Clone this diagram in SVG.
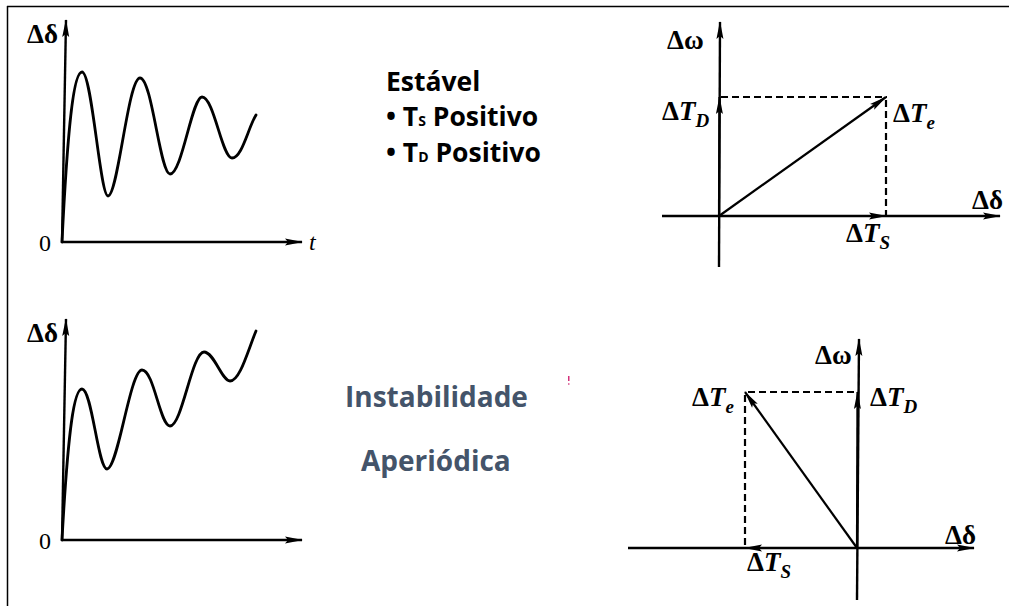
<svg xmlns="http://www.w3.org/2000/svg" width="1009" height="606" viewBox="0 0 1009 606">
<style>
.ax{stroke:#000;stroke-width:2.4;fill:none}
.cv{stroke:#000;stroke-width:2.8;fill:none;stroke-linecap:round;stroke-linejoin:round}
.dash{stroke:#000;stroke-width:2.2;fill:none;stroke-dasharray:7,4}
.vec{stroke:#000;stroke-width:2.2;fill:none}
.lb{font-family:"Liberation Serif","Times New Roman",serif;font-size:27px;font-weight:bold;fill:#000}
.nm{font-family:"Liberation Serif","Times New Roman",serif;font-size:24px;font-weight:normal;fill:#000}
.it{font-style:italic}
.sub{font-style:italic;font-size:19px}
.mt{font-family:"Open Sans","Liberation Sans",sans-serif;font-weight:bold;fill:#000;font-size:26.5px}
.bl{font-family:"Open Sans","Liberation Sans",sans-serif;font-weight:bold;fill:#44546A;font-size:28px}
</style>
<defs>
<marker id="ah" markerUnits="userSpaceOnUse" markerWidth="18" markerHeight="9" refX="17" refY="4.5" orient="auto">
<path d="M0,1 L18,4.5 L0,8 L3,4.5 Z" fill="#000"/>
</marker>
</defs>
<rect width="1009" height="606" fill="#fff"/>
<g id="frame">
<line x1="7" y1="6.5" x2="1009" y2="6.5" stroke="#000" stroke-width="1.5"/>
<line x1="7.5" y1="6" x2="7.5" y2="606" stroke="#000" stroke-width="1.5"/>
</g>
<g id="plot-top-left">
<line class="ax" x1="62" y1="243" x2="66" y2="20" marker-end="url(#ah)"/>
<line class="ax" x1="62" y1="242" x2="302" y2="242" marker-end="url(#ah)"/>
<path class="cv" d="M62,242 C68,120 74,72 82,72 C92,72 100,196 108,196 C118,196 128,78 140,78 C152,78 160,174 170,174 C182,174 192,97 202,97 C214,97 222,158 232,158 C242,158 248,128 256,115"/>
<text class="lb" x="27" y="43">Δδ</text>
<text class="nm" x="39" y="251">0</text>
<text class="nm it" x="309" y="250">t</text>
</g>
<g id="text-stable">
<text class="mt" x="386" y="91">Estável</text>
<text class="mt" x="386" y="126">• T<tspan font-size="14">S</tspan> Positivo</text>
<text class="mt" x="386" y="162">• T<tspan font-size="14">D</tspan> Positivo</text>
</g>
<g id="plot-top-right">
<line class="ax" x1="719" y1="267" x2="720" y2="22" marker-end="url(#ah)"/>
<line class="ax" x1="662" y1="216" x2="1000" y2="216" marker-end="url(#ah)"/>
<line class="dash" x1="721" y1="97" x2="887" y2="97"/>
<line class="dash" x1="886" y1="100" x2="886" y2="216"/>
<line class="vec" x1="719" y1="216" x2="719.5" y2="97" marker-end="url(#ah)"/>
<line class="vec" x1="719" y1="216" x2="886" y2="97" marker-end="url(#ah)"/>
<line class="vec" x1="719" y1="216" x2="886" y2="216" marker-end="url(#ah)"/>
<text class="lb" x="667" y="49">Δω</text>
<text class="lb" x="662" y="120">Δ<tspan class="it">T</tspan><tspan class="sub" dy="7">D</tspan></text>
<text class="lb" x="893" y="122">Δ<tspan class="it">T</tspan><tspan class="sub" dy="7">e</tspan></text>
<text class="lb" x="846" y="242">Δ<tspan class="it">T</tspan><tspan class="sub" dy="7">S</tspan></text>
<text class="lb" x="972" y="209">Δδ</text>
</g>
<g id="plot-bottom-left">
<line class="ax" x1="62" y1="541" x2="66" y2="319" marker-end="url(#ah)"/>
<line class="ax" x1="62" y1="540" x2="302" y2="540" marker-end="url(#ah)"/>
<path class="cv" d="M62,540 C68,430 74,389 82,389 C92,389 98,469 107,469 C118,469 130,370 142,370 C154,370 160,426 170,426 C182,426 192,352 204,352 C214,352 222,381 230,381 C240,381 248,350 256,331"/>
<text class="lb" x="27" y="342">Δδ</text>
<text class="nm" x="39" y="549">0</text>
</g>
<g id="text-unstable">
<text class="bl" x="345" y="407">Instabilidade</text>
<text class="bl" x="361" y="471">Aperiódica</text>
<rect x="568" y="376" width="1.5" height="5" fill="#d4307a"/>
<rect x="568" y="383" width="1.5" height="2" fill="#e07aa8"/>
</g>
<g id="plot-bottom-right">
<line class="ax" x1="857" y1="600" x2="859" y2="339" marker-end="url(#ah)"/>
<line class="ax" x1="628" y1="548" x2="974" y2="548" marker-end="url(#ah)"/>
<line class="dash" x1="748" y1="392" x2="857" y2="392"/>
<line class="dash" x1="745" y1="395" x2="745" y2="548"/>
<line class="vec" x1="857" y1="548" x2="857.5" y2="392" marker-end="url(#ah)"/>
<line class="vec" x1="857" y1="548" x2="745" y2="392" marker-end="url(#ah)"/>
<line class="vec" x1="857" y1="548" x2="745" y2="548" marker-end="url(#ah)"/>
<text class="lb" x="815" y="364">Δω</text>
<text class="lb" x="870" y="406">Δ<tspan class="it">T</tspan><tspan class="sub" dy="7">D</tspan></text>
<text class="lb" x="692" y="406">Δ<tspan class="it">T</tspan><tspan class="sub" dy="7">e</tspan></text>
<text class="lb" x="747" y="571">Δ<tspan class="it">T</tspan><tspan class="sub" dy="7">S</tspan></text>
<text class="lb" x="945" y="544">Δδ</text>
</g>
</svg>
